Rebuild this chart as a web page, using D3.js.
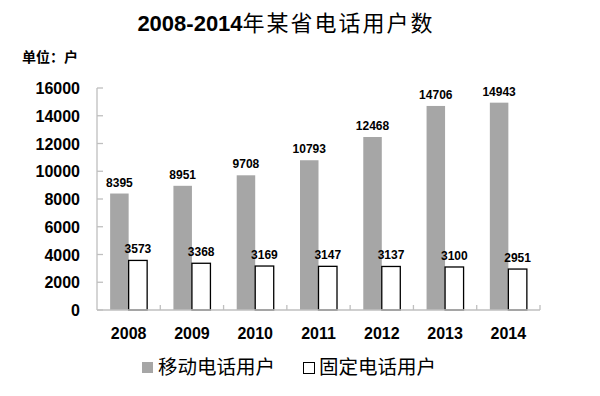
<!DOCTYPE html>
<html lang="zh">
<meta charset="utf-8"/>
<head>
<style>
  body { margin: 0; background: #fff; }
  text { font-family: "Liberation Sans", "Noto Sans CJK SC", sans-serif; }
</style>
</head>
<body>
<svg id="chart" width="600" height="396"></svg>

<script src="https://d3js.org/d3.v7.min.js"></script>
<script>
let years = ["2008", "2009", "2010", "2011", "2012", "2013", "2014"]
let mobile = [8395, 8951, 9708, 10793, 12468, 14706, 14943]
let fixed = [3573, 3368, 3169, 3147, 3137, 3100, 2951]
let seriesNames = ["移动电话用户", "固定电话用户"]
let yTicks = [0, 2000, 4000, 6000, 8000, 10000, 12000, 14000, 16000]

let plotL = 97, plotR = 540, plotT = 88, plotB = 310
let svg = d3.select("#chart")
let cjk = '"Noto Sans CJK SC", sans-serif'

// title: digits bold, chinese normal
let title = svg.append("text")
    .attr("x", 286).attr("y", 31)
    .attr("text-anchor", "middle")
title.append("tspan").text("2008-2014")
    .attr("font-weight", "bold").attr("font-size", 22)
title.append("tspan").text("年某省电话用户数")
    .attr("font-family", cjk).attr("font-size", 22).attr("letter-spacing", 2)

svg.append("text").text("单位：户")
    .attr("x", 22).attr("y", 62)
    .attr("font-family", cjk).attr("font-weight", "bold").attr("font-size", 14)

let x0 = d3.scaleBand().domain(years).range([plotL, plotR])
let x1 = d3.scaleBand().domain(seriesNames).range([0, x0.bandwidth()]).paddingOuter(0.71)
let y = d3.scaleLinear().domain([0, 16000]).range([plotB, plotT])

let rows = years.map((yr, i) => ({ year: yr, vals: [mobile[i], fixed[i]] }))

// y axis
svg.append("line").attr("x1", plotL).attr("x2", plotL).attr("y1", plotT).attr("y2", plotB)
    .attr("stroke", "#bfbfbf").attr("stroke-width", 1.3)
svg.append("g").selectAll("line").data(yTicks).join("line")
    .attr("x1", plotL).attr("x2", plotL + 6)
    .attr("y1", d => y(d)).attr("y2", d => y(d))
    .attr("stroke", "#bfbfbf").attr("stroke-width", 1.3)
svg.append("g").selectAll("text").data(yTicks).join("text")
    .text(d => d)
    .attr("x", 80).attr("y", d => y(d) + 6)
    .attr("text-anchor", "end")
    .attr("font-weight", "bold").attr("font-size", 16)

// bars
let groups = svg.append("g").selectAll("g").data(rows).join("g")
    .attr("transform", d => `translate(${x0(d.year)},0)`)

groups.selectAll("rect").data(d => d.vals.map((v, k) => ({ k: k, v: v }))).join("rect")
    .attr("x", d => x1(seriesNames[d.k]))
    .attr("width", x1.bandwidth())
    .attr("y", d => y(d.v))
    .attr("height", d => plotB - y(d.v))
    .attr("fill", d => d.k == 0 ? "#a6a6a6" : "#ffffff")
    .attr("stroke", d => d.k == 0 ? "none" : "#000")
    .attr("stroke-width", 1.3)

groups.selectAll("text").data(d => d.vals.map((v, k) => ({ k: k, v: v }))).join("text")
    .text(d => d.v)
    .attr("x", d => x1(seriesNames[d.k]) + x1.bandwidth() / 2)
    .attr("y", d => y(d.v) - 7)
    .attr("text-anchor", "middle")
    .attr("font-weight", "bold").attr("font-size", 12)

// x axis
svg.append("line").attr("x1", plotL).attr("x2", plotR).attr("y1", plotB).attr("y2", plotB)
    .attr("stroke", "#bfbfbf").attr("stroke-width", 1.5)
svg.append("g").selectAll("line").data(years.slice(1).concat(["end"])).join("line")
    .attr("x1", d => d == "end" ? plotR : x0(d)).attr("x2", d => d == "end" ? plotR : x0(d))
    .attr("y1", plotB).attr("y2", plotB - 5)
    .attr("stroke", "#bfbfbf").attr("stroke-width", 1.3)
svg.append("g").selectAll("text").data(years).join("text")
    .text(d => d)
    .attr("x", d => x0(d) + x0.bandwidth() / 2)
    .attr("y", 339)
    .attr("text-anchor", "middle")
    .attr("font-weight", "bold").attr("font-size", 16)

// legend
let legend = svg.append("g").selectAll("g").data(seriesNames).join("g")
    .attr("transform", (d, i) => `translate(${142 + i * 161},362)`)
legend.append("rect")
    .attr("width", 11).attr("height", 11)
    .attr("x", (d, i) => i == 0 ? 0 : 0.5).attr("y", (d, i) => i == 0 ? 0 : 0.5)
    .attr("fill", (d, i) => i == 0 ? "#a6a6a6" : "#fff")
    .attr("stroke", (d, i) => i == 0 ? "none" : "#000")
legend.append("text").text(d => d)
    .attr("x", 16).attr("y", 12)
    .attr("font-family", cjk).attr("font-size", 19.5)
</script>
</body>
</html>
